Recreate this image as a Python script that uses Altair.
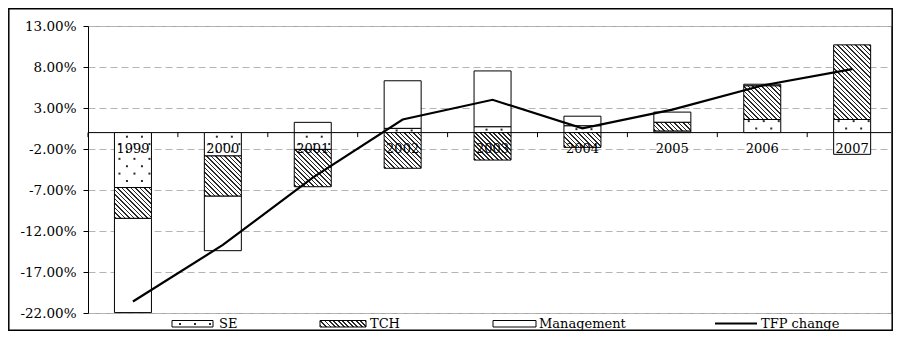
import altair as alt
import pandas as pd

# ---------------- data (% points) ----------------
years = [1999, 2000, 2001, 2002, 2003, 2004, 2005, 2006, 2007]
se   = [-6.70, -2.85, -2.05, 0.52, 0.72, 0.84, 0.20, 1.60, 1.60]
tch  = [-3.75, -4.88, -4.55, -4.35, -3.35, -1.80, 1.05, 4.10, 9.10]
mgmt = [-11.50, -6.67, 1.25, 5.80, 6.80, 1.16, 1.25, 0.20, -2.65]
tfp  = [-20.60, -13.70, -5.50, 1.60, 4.00, 0.52, 2.80, 5.75, 7.75]
y_ticks = [-22, -17, -12, -7, -2, 3, 8, 13]
series = ["SE", "TCH", "Management", "TFP change"]

# ---------------- layout / style ----------------
W, H = 803, 287
Y_MIN, Y_MAX = y_ticks[0], y_ticks[-1]
CAT_PX = 89.9
X_DOMAIN = [years[0] - 0.5, years[0] - 0.5 + W / CAT_PX]
PX_Y = H / (Y_MAX - Y_MIN)
PX_X = W / (X_DOMAIN[1] - X_DOMAIN[0])
BAR_W_PX = 37.0
BAR_HALF = (BAR_W_PX / 2) / PX_X
NUM_FONT = "DejaVu Serif"
INK = "#2a2a2a"
DOT_SIZE = 4

# stacked segments (positive and negative stacked separately)
rows = []
for i, yr in enumerate(years):
    pos = neg = 0.0
    for name, vals in ((series[0], se), (series[1], tch), (series[2], mgmt)):
        v = vals[i]
        if v >= 0:
            a, b = pos, pos + v
            pos = b
        else:
            a, b = neg, neg + v
            neg = b
        rows.append({"year": yr, "comp": name, "y0": a, "y1": b,
                     "xl": yr - BAR_HALF, "xr": yr + BAR_HALF})
bars = pd.DataFrame(rows)

# dotted fill for the SE segments (pattern derived from each segment)
ROW_A = [-13.5, 1.5, 16.5]
ROW_B = [-6.0, 9.0]
dots = []
for i, yr in enumerate(years):
    s = se[i]
    m = abs(s)
    sign = 1 if s >= 0 else -1
    if m < 0.4:
        continue
    if m < 1.0:
        levels = [m / 2]
    else:
        levels = []
        r = 0.5
        while r <= m - 0.15:
            levels.append(r)
            r += 0.9
    for j, r in enumerate(levels):
        for o in (ROW_B if j % 2 == 0 else ROW_A):
            dots.append({"xd": yr + o / PX_X, "yd": sign * r})
dots = pd.DataFrame(dots)


def hatch(w, h, period=4.5, dark=1.6, ink=INK):
    """Diagonal (\\) hatching as a bbox linear gradient for a w x h px box."""
    k = w * (w + h) / (w * w + h * h)
    span = w + h
    stops = [alt.GradientStop(offset=0, color="white")]
    s = 1.0
    while s < span:
        a = round(s / span, 5)
        b = round(min((s + dark) / span, 1.0), 5)
        stops += [alt.GradientStop(offset=a, color="white"),
                  alt.GradientStop(offset=a, color=ink),
                  alt.GradientStop(offset=b, color=ink),
                  alt.GradientStop(offset=b, color="white")]
        s += period
    stops.append(alt.GradientStop(offset=1, color="white"))
    return alt.LinearGradient(gradient="linear", stops=stops,
                              x1=0, y1=1, x2=round(k, 5), y2=round(1 - k * h / w, 5))


yscale = alt.Scale(domain=[Y_MIN, Y_MAX], nice=False, zero=False)
xscale = alt.Scale(domain=X_DOMAIN, nice=False, zero=False)
yaxis = alt.Axis(
    values=y_ticks,
    labelExpr="(datum.value < 0 ? '-' : '') + format(abs(datum.value), '.2f') + '%'",
    grid=True, gridDash=[7, 4], gridColor="#b4b4b4", gridWidth=1,
    domainColor="black", domainWidth=1, tickColor="black", tickSize=5,
    labelFont=NUM_FONT, labelFontSize=13.5, labelColor="black", labelPadding=7,
    title=None,
)

def X(f):
    return alt.X(f, scale=xscale, axis=None, title=None)

def Y(f):
    return alt.Y(f, scale=yscale, axis=yaxis, title=None)

layers = []

# zero line
layers.append(
    alt.Chart(pd.DataFrame({"z": [0.0]})).mark_rule(color="black", strokeWidth=1)
    .encode(y=Y("z:Q"))
)

# SE + Management segments (white)
plain = bars[bars.comp != series[1]]
layers.append(
    alt.Chart(plain).mark_rect(fill="white", stroke="black", strokeWidth=1)
    .encode(x=X("xl:Q"), x2="xr:Q", y=Y("y0:Q"), y2="y1:Q")
)

# TCH segments (hatched), one per bar so the hatch density stays constant
for i, yr in enumerate(years):
    seg = bars[(bars.comp == series[1]) & (bars.year == yr)]
    h = max(abs(tch[i]) * PX_Y, 1.0)
    layers.append(
        alt.Chart(seg).mark_rect(fill=hatch(BAR_W_PX, h), stroke="black", strokeWidth=1)
        .encode(x=X("xl:Q"), x2="xr:Q", y=Y("y0:Q"), y2="y1:Q")
    )

# SE dots
layers.append(
    alt.Chart(dots).mark_square(size=DOT_SIZE, color=INK, opacity=1)
    .encode(x=X("xd:Q"), y=Y("yd:Q"))
)

# category boundary ticks on the zero line
bounds = pd.DataFrame({"xb": [y - 0.5 for y in years], "t0": 0.0, "t1": -0.55})
layers.append(
    alt.Chart(bounds).mark_rule(color="black", strokeWidth=1)
    .encode(x=X("xb:Q"), y=Y("t0:Q"), y2="t1:Q")
)

# year labels just below the zero line
labels = pd.DataFrame({"year": years, "lab": [str(y) for y in years], "z": 0.0})
layers.append(
    alt.Chart(labels).mark_text(font=NUM_FONT, fontSize=13, color="black",
                                baseline="middle", align="center", dy=16.5)
    .encode(x=X("year:Q"), y=Y("z:Q"), text="lab:N")
)

# TFP change line
line_df = pd.DataFrame({"year": years, "tfp": tfp})
layers.append(
    alt.Chart(line_df).mark_line(color="black", strokeWidth=2.2)
    .encode(x=X("year:Q"), y=Y("tfp:Q"))
)

# ---------------- legend (drawn by hand, pixel layout) ----------------
one = pd.DataFrame({"k": [0]})
LEG_BOX = {series[0]: (84, 125), series[1]: (232, 278), series[2]: (405, 448)}
LEG_LINE_X = (627, 669)
LEG_TEXT_X = {series[0]: 131, series[1]: 282, series[2]: 451, series[3]: 673}
LEG_Y0, LEG_Y1, LEG_YC = 294.5, 301.0, 297.5
LEG_DOTS_X = [92, 107, 122]

for name, (x0, x1) in LEG_BOX.items():
    fill = hatch(x1 - x0, LEG_Y1 - LEG_Y0) if name == series[1] else "white"
    layers.append(
        alt.Chart(one).mark_rect(fill=fill, stroke="black", strokeWidth=1)
        .encode(x=alt.value(x0), x2=alt.value(x1), y=alt.value(LEG_Y0), y2=alt.value(LEG_Y1))
    )
for dx in LEG_DOTS_X:
    layers.append(
        alt.Chart(one).mark_square(size=DOT_SIZE, color=INK, opacity=1)
        .encode(x=alt.value(dx), y=alt.value(LEG_YC + 0.5))
    )
layers.append(
    alt.Chart(one).mark_rule(color="black", strokeWidth=2)
    .encode(x=alt.value(LEG_LINE_X[0]), x2=alt.value(LEG_LINE_X[1]), y=alt.value(LEG_YC))
)
for name in series:
    layers.append(
        alt.Chart(one).mark_text(text=name, font=NUM_FONT, fontSize=13, color="black",
                                 align="left", baseline="middle")
        .encode(x=alt.value(LEG_TEXT_X[name]), y=alt.value(LEG_YC))
    )

# outer frame
layers.append(
    alt.Chart(one).mark_rect(fill="transparent", stroke="black", strokeWidth=1.5)
    .encode(x=alt.value(-79.2), x2=alt.value(804.2), y=alt.value(-17.2), y2=alt.value(304.2))
)

chart = (
    alt.layer(*layers)
    .properties(width=W, height=H,
                autosize=alt.AutoSizeParams(type="none"),
                padding={"left": 80, "top": 18, "right": 2, "bottom": 18},
                background="white")
    .configure_view(stroke="#a6a6a6", strokeWidth=1)
)

chart.save("out.html", embed_options={"renderer": "svg", "actions": False})
